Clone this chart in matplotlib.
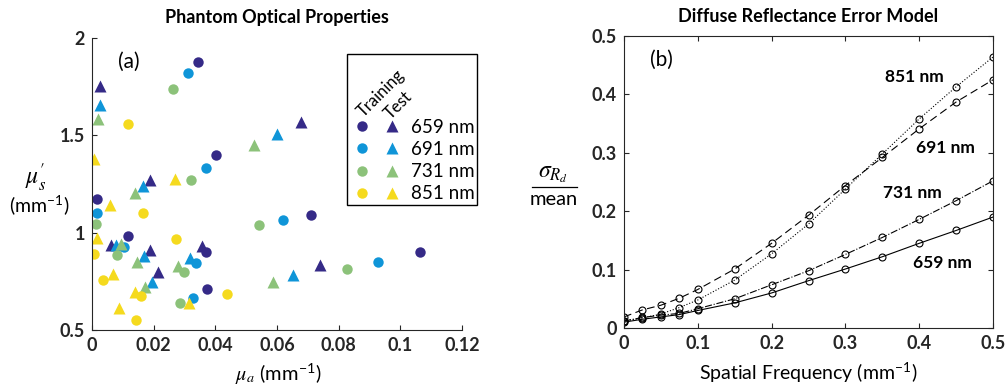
import matplotlib
matplotlib.use("Agg")
import matplotlib.pyplot as plt
from matplotlib.lines import Line2D
from matplotlib.legend_handler import HandlerTuple

plt.rcParams['font.family'] = ['Lato', 'DejaVu Sans']
plt.rcParams['mathtext.fontset'] = 'stix'

W, H = 1005, 386

# ---- panel (a): phantom optical properties ----
wavelengths = ['659 nm', '691 nm', '731 nm', '851 nm']
colors = ['#352a87', '#0f95d8', '#8cc27a', '#f5da1e']

train_mua = [
    [0.0344, 0.0402, 0.0017, 0.0117, 0.0371, 0.0374, 0.0709, 0.1064],
    [0.0311, 0.0369, 0.0017, 0.0104, 0.0337, 0.0328, 0.0618, 0.0929],
    [0.0263, 0.0320, 0.0014, 0.0082, 0.0299, 0.0285, 0.0543, 0.0828],
    [0.0117, 0.0164, 0.0006, 0.0037, 0.0272, 0.0159, 0.0142, 0.0437],
]
train_mus = [
    [1.877, 1.401, 1.172, 0.984, 0.902, 0.709, 1.090, 0.902],
    [1.820, 1.330, 1.099, 0.924, 0.842, 0.666, 1.064, 0.849],
    [1.737, 1.273, 1.046, 0.883, 0.799, 0.640, 1.037, 0.811],
    [1.557, 1.099, 0.888, 0.757, 0.967, 0.674, 0.551, 0.683],
]
test_mua = [
    [0.0025, 0.0678, 0.0187, 0.0061, 0.0187, 0.0358, 0.0215, 0.0740],
    [0.0025, 0.0601, 0.0166, 0.0078, 0.0169, 0.0317, 0.0195, 0.0651],
    [0.0021, 0.0526, 0.0139, 0.0093, 0.0145, 0.0279, 0.0173, 0.0588],
    [0.0006, 0.0270, 0.0058, 0.0017, 0.0067, 0.0141, 0.0088, 0.0315],
]
test_mus = [
    [1.754, 1.566, 1.270, 0.936, 0.910, 0.931, 0.799, 0.833],
    [1.658, 1.509, 1.241, 0.938, 0.881, 0.868, 0.748, 0.780],
    [1.583, 1.451, 1.206, 0.940, 0.851, 0.830, 0.719, 0.746],
    [1.376, 1.278, 1.140, 0.974, 0.787, 0.693, 0.611, 0.640],
]

# ---- panel (b): diffuse reflectance error model ----
freq = [0, 0.025, 0.05, 0.075, 0.1, 0.15, 0.2, 0.25, 0.3, 0.35, 0.4, 0.45, 0.5]
err_659 = [0.010, 0.015, 0.019, 0.023, 0.030, 0.043, 0.060, 0.081, 0.101, 0.122, 0.145, 0.167, 0.190]
err_691 = [0.019, 0.031, 0.039, 0.051, 0.066, 0.101, 0.145, 0.193, 0.244, 0.292, 0.341, 0.387, 0.425]
err_731 = [0.012, 0.018, 0.022, 0.025, 0.033, 0.050, 0.074, 0.098, 0.126, 0.155, 0.186, 0.218, 0.252]
err_851 = [0.012, 0.017, 0.024, 0.035, 0.048, 0.082, 0.127, 0.178, 0.238, 0.298, 0.358, 0.413, 0.464]
curve_labels = {'851 nm': (0.394, 0.430), '691 nm': (0.435, 0.308),
                '731 nm': (0.391, 0.231), '659 nm': (0.432, 0.111)}


def px(x, y):
    return x / W, 1 - y / H


fig = plt.figure(figsize=(W / 100, H / 100), dpi=100)

ax1 = fig.add_axes([92 / W, 1 - 330 / H, 370 / W, 292 / H])
for i in range(4):
    ax1.plot(train_mua[i], train_mus[i], 'o', color=colors[i], ms=7.5, mec='none')
    ax1.plot(test_mua[i], test_mus[i], '^', color=colors[i], ms=9, mec='none')
ax1.set_xlim(0, 0.12)
ax1.set_ylim(0.5, 2)
ax1.set_xticks([0, 0.02, 0.04, 0.06, 0.08, 0.1, 0.12])
ax1.set_xticklabels(['0', '0.02', '0.04', '0.06', '0.08', '0.1', '0.12'])
ax1.set_yticks([0.5, 1, 1.5, 2])
ax1.set_yticklabels(['0.5', '1', '1.5', '2'])
ax1.spines['top'].set_visible(False)
ax1.spines['right'].set_visible(False)
fig.text(*px(277, 17), 'Phantom Optical Properties', fontsize=13, fontweight='bold',
         ha='center', va='center')
ax1.text(0.07, 0.92, '(a)', transform=ax1.transAxes, fontsize=15, ha='left', va='center')

# legend: circle = training, triangle = test
handles = []
for c in colors:
    h1 = Line2D([], [], marker='o', ls='none', color=c, ms=7.5, mec='none')
    h2 = Line2D([], [], marker='^', ls='none', color=c, ms=9, mec='none')
    handles.append((h1, h2))
leg = ax1.legend(handles, wavelengths, handler_map={tuple: HandlerTuple(ndivide=None, pad=0.3)},
                 loc='upper left', bbox_to_anchor=(0.689, 0.945), borderaxespad=0,
                 fancybox=False, edgecolor='black', framealpha=1, fontsize=13.5,
                 title=' \n \n ', title_fontsize=14, labelspacing=0.28,
                 handlelength=2.9, handletextpad=0.35, borderpad=0.15)
leg.get_frame().set_linewidth(1.0)
leg.set_clip_on(False)
fig.text(*px(381, 93), 'Training', rotation=45, ha='center', va='center', fontsize=12)
fig.text(*px(398, 105), 'Test', rotation=45, ha='center', va='center', fontsize=12)

fig.text(*px(36, 178), r"$\mu_{s}^{\prime}$", ha='center', va='center', fontsize=17)
fig.text(*px(39, 206), '(mm$^{\\mathregular{-1}}$)', ha='center', va='center', fontsize=14)
fig.text(*px(278, 374), r'$\mu_a$ (mm$^{\mathregular{-1}}$)', ha='center', va='center', fontsize=14.5)

ax2 = fig.add_axes([624 / W, 1 - 328 / H, 369 / W, 292 / H])
ax2.plot(freq, err_659, '-', color='black', lw=0.8, marker='o', mfc='none', ms=5, mew=0.8)
ax2.plot(freq, err_691, '--', color='black', lw=0.8, marker='o', mfc='none', ms=5, mew=0.8,
         dashes=(7, 4))
ax2.plot(freq, err_731, '-.', color='black', lw=0.8, marker='o', mfc='none', ms=5, mew=0.8)
ax2.plot(freq, err_851, ':', color='black', lw=0.8, marker='o', mfc='none', ms=5, mew=0.8)
ax2.set_xlim(0, 0.5)
ax2.set_ylim(0, 0.5)
ax2.set_xticks([0, 0.1, 0.2, 0.3, 0.4, 0.5])
ax2.set_xticklabels(['0', '0.1', '0.2', '0.3', '0.4', '0.5'])
ax2.set_yticks([0, 0.1, 0.2, 0.3, 0.4, 0.5])
ax2.set_yticklabels(['0', '0.1', '0.2', '0.3', '0.4', '0.5'])
ax2.tick_params(top=True, right=True)
fig.text(*px(808, 17), 'Diffuse Reflectance Error Model', fontsize=13, fontweight='bold',
         ha='center', va='center')
ax2.text(0.07, 0.92, '(b)', transform=ax2.transAxes, fontsize=15, ha='left', va='center')
for lab, (x, y) in curve_labels.items():
    ax2.text(x, y, lab, fontsize=12.5, fontweight='bold', ha='center', va='center')

fig.text(*px(553, 174), r'$\sigma_{R_d}$', ha='center', va='center', fontsize=17)
fig.add_artist(Line2D([532 / W, 577 / W], [1 - 187 / H, 1 - 187 / H], color='black', lw=0.9,
                      transform=fig.transFigure))
fig.text(*px(554, 200), 'mean', ha='center', va='center', fontsize=14.5)
fig.text(*px(808, 373), 'Spatial Frequency (mm$^{\\mathregular{-1}}$)', ha='center', va='center',
         fontsize=14)

for ax in (ax1, ax2):
    ax.tick_params(direction='in', length=3.5, width=0.8, labelsize=13, colors='#262626', pad=5)
    for lbl in ax.get_xticklabels() + ax.get_yticklabels():
        lbl.set_fontweight('bold')
    for s in ax.spines.values():
        s.set_color('#262626')
        s.set_linewidth(0.8)

fig.savefig('out.png', dpi=100)
